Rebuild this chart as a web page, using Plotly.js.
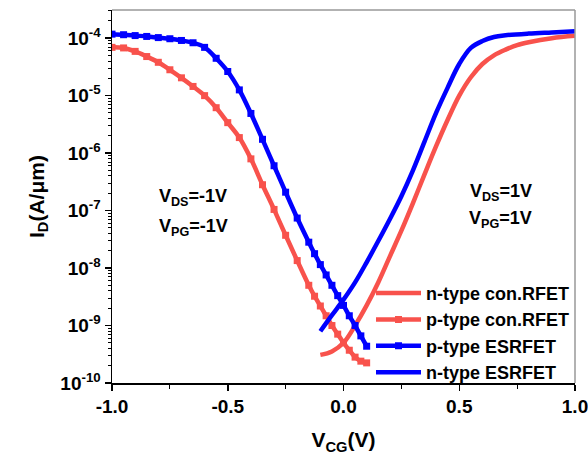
<!DOCTYPE html>
<html>
<head>
<meta charset="utf-8">
<script src="https://cdn.plot.ly/plotly-3.0.1.min.js"></script>
<style>html,body{margin:0;padding:0;background:#fff;}#chart{width:588px;height:456px;}</style>
</head>
<body>
<div id="chart"></div>
<script>
// Gate voltage samples (V) and log10 of drain current (A/um)
const vNcon = [-0.1, -0.05, 0, 0.05, 0.1, 0.15, 0.2, 0.25, 0.3, 0.35, 0.4, 0.45, 0.5, 0.55, 0.6, 0.65, 0.7, 0.75, 0.8, 0.9, 1.0];
const logNcon = [-9.51, -9.45, -9.3, -9.0, -8.65, -8.25, -7.8, -7.35, -6.87, -6.37, -5.88, -5.42, -5.0, -4.68, -4.45, -4.3, -4.2, -4.12, -4.07, -4.0, -3.96];

const vPcon = [-1.0, -0.95, -0.9, -0.85, -0.8, -0.75, -0.7, -0.65, -0.6, -0.55, -0.5, -0.45, -0.4, -0.35, -0.3, -0.25, -0.2, -0.15, -0.125, -0.1, -0.075, -0.05, -0.025, 0, 0.025, 0.05, 0.075, 0.1];
const logPcon = [-4.16, -4.17, -4.23, -4.32, -4.42, -4.55, -4.69, -4.84, -5.0, -5.21, -5.47, -5.73, -6.1, -6.55, -6.98, -7.43, -7.87, -8.3, -8.49, -8.66, -8.83, -9.0, -9.15, -9.3, -9.43, -9.55, -9.62, -9.65];

const vPes = [-1.0, -0.95, -0.9, -0.85, -0.8, -0.75, -0.7, -0.65, -0.6, -0.55, -0.5, -0.45, -0.4, -0.35, -0.3, -0.25, -0.2, -0.15, -0.125, -0.1, -0.075, -0.05, -0.025, 0, 0.025, 0.05, 0.075, 0.1];
const logPes = [-3.93, -3.94, -3.955, -3.97, -3.99, -4.01, -4.04, -4.08, -4.16, -4.35, -4.58, -4.9, -5.31, -5.76, -6.22, -6.68, -7.13, -7.55, -7.75, -7.94, -8.12, -8.3, -8.48, -8.65, -8.83, -9.0, -9.18, -9.36];

const vNes = [-0.1, -0.05, 0, 0.05, 0.1, 0.15, 0.2, 0.25, 0.3, 0.35, 0.4, 0.45, 0.5, 0.55, 0.6, 0.65, 0.7, 0.8, 0.9, 1.0];
const logNes = [-9.1, -8.82, -8.55, -8.25, -7.9, -7.53, -7.15, -6.75, -6.3, -5.8, -5.3, -4.86, -4.45, -4.17, -4.05, -3.98, -3.95, -3.92, -3.9, -3.88];

const seriesNames = ['n-type con.RFET', 'p-type con.RFET', 'p-type ESRFET', 'n-type ESRFET'];
const xTickVals = [-1.0, -0.5, 0.0, 0.5, 1.0];
const xTickText = ['-1.0', '-0.5', '0.0', '0.5', '1.0'];
const decades = [-10, -9, -8, -7, -6, -5, -4];
const yTickText = ['10<sup>-10</sup>', '10<sup>-9</sup>', '10<sup>-8</sup>', '10<sup>-7</sup>', '10<sup>-6</sup>', '10<sup>-5</sup>', '10<sup>-4</sup>'];

const RED = '#F8524C';
const BLUE = '#0000FF';
const FONT = 'Liberation Sans, Arial, sans-serif';
const toA = a => a.map(v => Math.pow(10, v));

const yMajor = decades.map(d => Math.pow(10, d));
// minor tick positions on the log axis: 2..9 times each decade
const yMinor = [];
decades.forEach(d => { for (let k = 2; k <= 9; k++) yMinor.push(k * Math.pow(10, d)); });

const traces = [
  {x: vNcon, y: toA(logNcon), name: seriesNames[0], mode: 'lines',
   line: {color: RED, width: 4.5, shape: 'spline'}},
  {x: vPcon, y: toA(logPcon), name: seriesNames[1], mode: 'lines+markers',
   line: {color: RED, width: 4.5, shape: 'spline'}, marker: {symbol: 'square', size: 7, color: RED}},
  {x: vPes, y: toA(logPes), name: seriesNames[2], mode: 'lines+markers',
   line: {color: BLUE, width: 4.5, shape: 'spline'}, marker: {symbol: 'square', size: 7, color: BLUE}},
  {x: vNes, y: toA(logNes), name: seriesNames[3], mode: 'lines',
   line: {color: BLUE, width: 4.5, shape: 'spline'}}
];

const annFont = {family: FONT, size: 18, color: '#000', weight: 'bold'};

const layout = {
  width: 588, height: 456,
  margin: {l: 112, r: 13, t: 10, b: 73},
  paper_bgcolor: '#ffffff', plot_bgcolor: '#ffffff',
  font: {family: FONT, size: 18, color: '#000', weight: 'bold'},
  showlegend: true,
  legend: {x: 1, xanchor: 'right', y: -0.021, yanchor: 'bottom', bgcolor: 'rgba(0,0,0,0)',
           font: {family: FONT, size: 18, color: '#000', weight: 'bold'}, itemwidth: 45, tracegroupgap: 0},
  xaxis: {
    range: [-1, 1], showgrid: false, zeroline: false,
    showline: true, linecolor: '#000', linewidth: 1.5,
    ticks: 'outside', ticklen: 6, tickwidth: 1.5, tickcolor: '#000',
    tickmode: 'array', tickvals: xTickVals, ticktext: xTickText, ticklabeloverflow: 'allow',
    tickfont: {family: FONT, size: 19, color: '#000', weight: 'bold'},
    minor: {ticks: 'outside', ticklen: 4, tickwidth: 1.2, tickcolor: '#000', dtick: 0.25, showgrid: false},
    title: {text: 'V<sub>CG</sub>(V)', standoff: 16, font: {family: FONT, size: 21, color: '#000', weight: 'bold'}}
  },
  yaxis: {
    type: 'log', range: [-10, -3.51], showgrid: false, zeroline: false,
    showline: true, linecolor: '#000', linewidth: 1.5,
    ticks: 'outside', ticklen: 6, tickwidth: 1.5, tickcolor: '#000',
    tickmode: 'array', tickvals: yMajor, ticktext: yTickText, ticklabeloverflow: 'allow',
    tickfont: {family: FONT, size: 19, color: '#000', weight: 'bold'},
    minor: {ticks: 'outside', ticklen: 3, tickwidth: 1, tickcolor: '#000', showgrid: false,
            tickmode: 'array', tickvals: yMinor},
    title: {text: 'I<sub>D</sub>(A/μm)', standoff: 10, font: {family: FONT, size: 21, color: '#000', weight: 'bold'}}
  },
  shapes: [
    {type: 'line', xref: 'paper', yref: 'paper', x0: 0, x1: 1, y0: 1, y1: 1, line: {color: '#999', width: 1.5}},
    {type: 'line', xref: 'paper', yref: 'paper', x0: 1, x1: 1, y0: 0, y1: 1, line: {color: '#999', width: 1.5}}
  ],
  annotations: [
    {xref: 'paper', yref: 'paper', x: 0.175, y: 0.496, xanchor: 'center', yanchor: 'middle',
     text: 'V<sub>DS</sub>=-1V', showarrow: false, font: annFont},
    {xref: 'paper', yref: 'paper', x: 0.175, y: 0.416, xanchor: 'center', yanchor: 'middle',
     text: 'V<sub>PG</sub>=-1V', showarrow: false, font: annFont},
    {xref: 'paper', yref: 'paper', x: 0.84, y: 0.512, xanchor: 'center', yanchor: 'middle',
     text: 'V<sub>DS</sub>=1V', showarrow: false, font: annFont},
    {xref: 'paper', yref: 'paper', x: 0.84, y: 0.437, xanchor: 'center', yanchor: 'middle',
     text: 'V<sub>PG</sub>=1V', showarrow: false, font: annFont}
  ]
};

Plotly.newPlot('chart', traces, layout, {displayModeBar: false, staticPlot: true});
</script>
</body>
</html>
